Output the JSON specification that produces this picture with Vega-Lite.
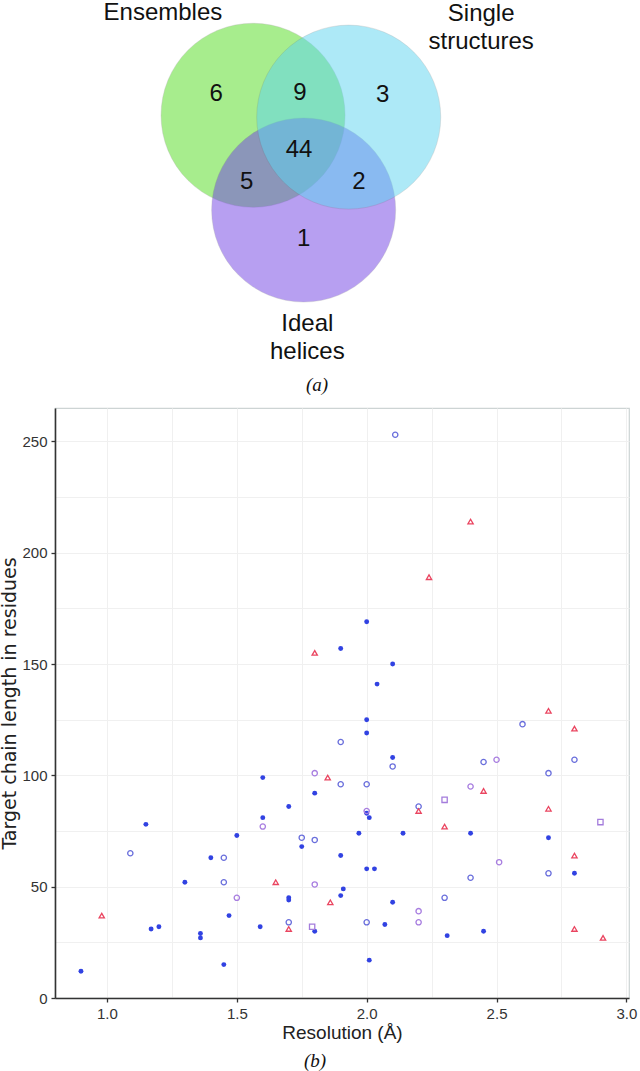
{
  "$schema": "https://vega.github.io/schema/vega-lite/v6.json",
  "padding": 0,
  "background": "white",
  "spacing": 11,
  "config": {"font": "Liberation Sans", "view": {"stroke": null}},
  "resolve": {"scale": {"color": "independent", "shape": "independent", "size": "independent"}},
  "vconcat": [
    {
      "width": 574,
      "height": 362,
      "view": {"stroke": null},
      "title": {"text": "(a)", "orient": "bottom", "font": "Liberation Serif", "fontStyle": "italic", "fontWeight": "normal", "fontSize": 19, "color": "#111111", "offset": 12, "dx": -25},
      "layer": [
        {
          "data": {"values": [
            {"set": "Ensembles", "cx": -0.53, "cy": 0.35, "z": 1},
            {"set": "Ideal helices", "cx": 0.02, "cy": -0.68, "z": 2},
            {"set": "Single structures", "cx": 0.51, "cy": 0.33, "z": 3}
          ]},
          "mark": {"type": "point", "shape": "circle", "filled": true, "size": 33856, "opacity": 0.5, "stroke": "#666666", "strokeWidth": 0.8, "strokeOpacity": 0.4},
          "encoding": {
            "x": {"field": "cx", "type": "quantitative", "scale": {"domain": [-2.683, 3.557], "nice": false, "zero": false}, "axis": null},
            "y": {"field": "cy", "type": "quantitative", "scale": {"domain": [-2.332, 1.603], "nice": false, "zero": false}, "axis": null},
            "color": {"field": "set", "type": "nominal", "scale": {"domain": ["Ensembles", "Ideal helices", "Single structures"], "range": ["#51dd1d", "#7141e5", "#5dd5f1"]}, "legend": null},
            "order": {"field": "z", "type": "quantitative"}
          }
        },
        {
          "data": {"values": [
            {"n": "6", "x": -0.93, "y": 0.58},
            {"n": "9", "x": -0.02, "y": 0.59},
            {"n": "3", "x": 0.88, "y": 0.57},
            {"n": "44", "x": -0.03, "y": -0.03},
            {"n": "5", "x": -0.6, "y": -0.37},
            {"n": "2", "x": 0.62, "y": -0.375},
            {"n": "1", "x": 0.02, "y": -1.0}
          ]},
          "mark": {"type": "text", "fontSize": 24, "color": "#111111", "baseline": "middle", "align": "center"},
          "encoding": {
            "x": {"field": "x", "type": "quantitative"},
            "y": {"field": "y", "type": "quantitative"},
            "text": {"field": "n", "type": "nominal"}
          }
        },
        {
          "data": {"values": [
            {"label": "Ensembles", "x": -1.51, "y": 1.46},
            {"label": "Single\nstructures", "x": 1.95, "y": 1.452},
            {"label": "Ideal\nhelices", "x": 0.06, "y": -1.924}
          ]},
          "mark": {"type": "text", "fontSize": 24, "color": "#111111", "baseline": "middle", "align": "center", "lineBreak": "\n", "lineHeight": 28},
          "encoding": {
            "x": {"field": "x", "type": "quantitative"},
            "y": {"field": "y", "type": "quantitative"},
            "text": {"field": "label", "type": "nominal"}
          }
        }
      ]
    },
    {
      "width": 574,
      "height": 590,
      "view": {"stroke": "#cdd4d4", "strokeWidth": 1.2},
      "title": {"text": "(b)", "orient": "bottom", "font": "Liberation Serif", "fontStyle": "italic", "fontWeight": "normal", "fontSize": 19, "color": "#111111", "offset": 10, "dx": -27},
      "data": {"values": [
        {"res": 0.9, "len": 12, "type": "filled"},
        {"res": 1.15, "len": 78, "type": "filled"},
        {"res": 1.17, "len": 31, "type": "filled"},
        {"res": 1.2, "len": 32, "type": "filled"},
        {"res": 1.3, "len": 52, "type": "filled"},
        {"res": 1.36, "len": 29, "type": "filled"},
        {"res": 1.36, "len": 27, "type": "filled"},
        {"res": 1.4, "len": 63, "type": "filled"},
        {"res": 1.45, "len": 15, "type": "filled"},
        {"res": 1.47, "len": 37, "type": "filled"},
        {"res": 1.5, "len": 73, "type": "filled"},
        {"res": 1.59, "len": 32, "type": "filled"},
        {"res": 1.6, "len": 99, "type": "filled"},
        {"res": 1.6, "len": 81, "type": "filled"},
        {"res": 1.7, "len": 86, "type": "filled"},
        {"res": 1.7, "len": 45, "type": "filled"},
        {"res": 1.7, "len": 44, "type": "filled"},
        {"res": 1.75, "len": 68, "type": "filled"},
        {"res": 1.8, "len": 92, "type": "filled"},
        {"res": 1.8, "len": 30, "type": "filled"},
        {"res": 1.9, "len": 157, "type": "filled"},
        {"res": 1.9, "len": 64, "type": "filled"},
        {"res": 1.91, "len": 49, "type": "filled"},
        {"res": 1.9, "len": 46, "type": "filled"},
        {"res": 1.97, "len": 74, "type": "filled"},
        {"res": 2.0, "len": 169, "type": "filled"},
        {"res": 2.0, "len": 125, "type": "filled"},
        {"res": 2.0, "len": 119, "type": "filled"},
        {"res": 2.0, "len": 83, "type": "filled"},
        {"res": 2.01, "len": 81, "type": "filled"},
        {"res": 2.0, "len": 58, "type": "filled"},
        {"res": 2.03, "len": 58, "type": "filled"},
        {"res": 2.01, "len": 17, "type": "filled"},
        {"res": 2.04, "len": 141, "type": "filled"},
        {"res": 2.07, "len": 33, "type": "filled"},
        {"res": 2.1, "len": 150, "type": "filled"},
        {"res": 2.1, "len": 108, "type": "filled"},
        {"res": 2.1, "len": 43, "type": "filled"},
        {"res": 2.14, "len": 74, "type": "filled"},
        {"res": 2.31, "len": 28, "type": "filled"},
        {"res": 2.4, "len": 74, "type": "filled"},
        {"res": 2.45, "len": 30, "type": "filled"},
        {"res": 2.7, "len": 72, "type": "filled"},
        {"res": 2.8, "len": 56, "type": "filled"},
        {"res": 1.09, "len": 65, "type": "open blue"},
        {"res": 1.45, "len": 63, "type": "open blue"},
        {"res": 1.45, "len": 52, "type": "open blue"},
        {"res": 1.7, "len": 34, "type": "open blue"},
        {"res": 1.75, "len": 72, "type": "open blue"},
        {"res": 1.8, "len": 71, "type": "open blue"},
        {"res": 1.9, "len": 115, "type": "open blue"},
        {"res": 1.9, "len": 96, "type": "open blue"},
        {"res": 2.0, "len": 96, "type": "open blue"},
        {"res": 2.0, "len": 34, "type": "open blue"},
        {"res": 2.1, "len": 104, "type": "open blue"},
        {"res": 2.11, "len": 253, "type": "open blue"},
        {"res": 2.2, "len": 86, "type": "open blue"},
        {"res": 2.3, "len": 45, "type": "open blue"},
        {"res": 2.4, "len": 54, "type": "open blue"},
        {"res": 2.45, "len": 106, "type": "open blue"},
        {"res": 2.6, "len": 123, "type": "open blue"},
        {"res": 2.7, "len": 101, "type": "open blue"},
        {"res": 2.7, "len": 56, "type": "open blue"},
        {"res": 2.8, "len": 107, "type": "open blue"},
        {"res": 1.5, "len": 45, "type": "open purple"},
        {"res": 1.6, "len": 77, "type": "open purple"},
        {"res": 1.8, "len": 101, "type": "open purple"},
        {"res": 1.8, "len": 51, "type": "open purple"},
        {"res": 2.0, "len": 84, "type": "open purple"},
        {"res": 2.2, "len": 39, "type": "open purple"},
        {"res": 2.2, "len": 34, "type": "open purple"},
        {"res": 2.4, "len": 95, "type": "open purple"},
        {"res": 2.5, "len": 107, "type": "open purple"},
        {"res": 2.51, "len": 61, "type": "open purple"},
        {"res": 0.98, "len": 37, "type": "triangle"},
        {"res": 1.65, "len": 52, "type": "triangle"},
        {"res": 1.7, "len": 31, "type": "triangle"},
        {"res": 1.8, "len": 155, "type": "triangle"},
        {"res": 1.85, "len": 99, "type": "triangle"},
        {"res": 1.86, "len": 43, "type": "triangle"},
        {"res": 2.2, "len": 84, "type": "triangle"},
        {"res": 2.24, "len": 189, "type": "triangle"},
        {"res": 2.3, "len": 77, "type": "triangle"},
        {"res": 2.4, "len": 214, "type": "triangle"},
        {"res": 2.45, "len": 93, "type": "triangle"},
        {"res": 2.7, "len": 129, "type": "triangle"},
        {"res": 2.7, "len": 85, "type": "triangle"},
        {"res": 2.8, "len": 121, "type": "triangle"},
        {"res": 2.8, "len": 64, "type": "triangle"},
        {"res": 2.8, "len": 31, "type": "triangle"},
        {"res": 2.91, "len": 27, "type": "triangle"},
        {"res": 1.79, "len": 32, "type": "square"},
        {"res": 2.3, "len": 89, "type": "square"},
        {"res": 2.9, "len": 79, "type": "square"}
      ]},
      "encoding": {
        "x": {
          "field": "res", "type": "quantitative",
          "scale": {"domain": [0.8, 3.01], "nice": false, "zero": false},
          "axis": {
            "title": "Resolution (Å)",
            "values": [1, 1.25, 1.5, 1.75, 2, 2.25, 2.5, 2.75, 3],
            "labelExpr": "datum.value % 0.5 === 0 ? format(datum.value, '.1f') : ''",
            "labelFlush": false, "labelOverlap": false,
            "labelFont": "Liberation Sans", "labelFontSize": 15, "labelColor": "#333333", "labelPadding": 4,
            "grid": true, "gridColor": "#f0f0f0", "gridWidth": 1,
            "domainColor": "#333333", "domainWidth": 1.6,
            "tickColor": "#333333", "tickSize": 4, "tickWidth": 1.3,
            "tickOpacity": {"condition": {"test": "datum.value % 0.5 !== 0", "value": 0}, "value": 1},
            "titleFont": "Liberation Sans", "titleFontSize": 19, "titleFontWeight": "normal", "titleColor": "#222222", "titlePadding": 2
          }
        },
        "y": {
          "field": "len", "type": "quantitative",
          "scale": {"domain": [0, 265], "nice": false, "zero": false},
          "axis": {
            "title": "Target chain length in residues",
            "values": [0, 25, 50, 75, 100, 125, 150, 175, 200, 225, 250],
            "labelExpr": "datum.value % 50 === 0 ? datum.label : ''",
            "labelOverlap": false,
            "labelFont": "Liberation Sans", "labelFontSize": 15, "labelColor": "#333333", "labelPadding": 4,
            "grid": true, "gridColor": "#f0f0f0", "gridWidth": 1,
            "domainColor": "#333333", "domainWidth": 1.6,
            "tickColor": "#333333", "tickSize": 4, "tickWidth": 1.3,
            "tickOpacity": {"condition": {"test": "datum.value % 50 !== 0", "value": 0}, "value": 1},
            "titleFont": "DejaVu Sans", "titleFontSize": 19, "titleFontWeight": "normal", "titleColor": "#222222", "titlePadding": 2
          }
        }
      },
      "layer": [
        {
          "transform": [{"filter": "datum.type === 'filled'"}],
          "mark": {"type": "point", "shape": "circle", "filled": true, "size": 24, "color": "#3142e2", "opacity": 1}
        },
        {
          "transform": [{"filter": "datum.type !== 'filled'"}],
          "mark": {"type": "point", "filled": false, "strokeWidth": 1.3, "opacity": 1},
          "encoding": {
            "shape": {"field": "type", "type": "nominal", "scale": {"domain": ["open blue", "open purple", "triangle", "square"], "range": ["circle", "circle", "triangle-up", "square"]}, "legend": null},
            "color": {"field": "type", "type": "nominal", "scale": {"domain": ["open blue", "open purple", "triangle", "square"], "range": ["#6a6fdc", "#a87ee0", "#ea4560", "#a47cdc"]}, "legend": null},
            "size": {"field": "type", "type": "nominal", "scale": {"domain": ["open blue", "open purple", "triangle", "square"], "range": [28, 28, 54, 24]}, "legend": null}
          }
        }
      ]
    }
  ]
}
